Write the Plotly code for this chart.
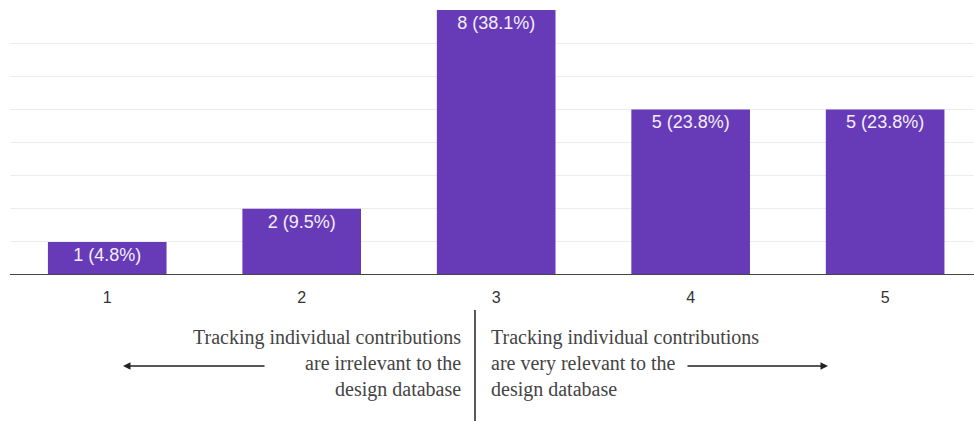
import plotly.graph_objects as go

# Survey responses on a 1–5 scale
categories = [1, 2, 3, 4, 5]
counts = [1, 2, 8, 5, 5]
percents = [4.8, 9.5, 38.1, 23.8, 23.8]
bar_labels = [f"{c} ({p}%)" for c, p in zip(counts, percents)]

left_note = "Tracking individual contributions<br>are irrelevant to the<br>design database"
right_note = "Tracking individual contributions<br>are very relevant to the<br>design database"

W, H = 974, 421
ML, MR, MT, MB = 10, 0, 10, 146
PW, PH = W - ML - MR, H - MT - MB


def px(x):
    return (x - ML) / PW


def py(y):
    return (H - MB - y) / PH


fig = go.Figure(
    go.Bar(
        x=categories,
        y=counts,
        width=0.61,
        marker=dict(color="#673ab7", line=dict(width=0)),
        text=bar_labels,
        textposition="inside",
        insidetextanchor="end",
        textangle=0,
        constraintext="none",
        textfont=dict(family="Arial, Liberation Sans, sans-serif", size=18, color="#f3eefa"),
        cliponaxis=False,
    )
)

fig.update_layout(
    width=W,
    height=H,
    margin=dict(l=ML, r=MR, t=MT, b=MB),
    paper_bgcolor="white",
    plot_bgcolor="white",
    showlegend=False,
    xaxis=dict(
        range=[0.5, 5.457],
        tickmode="array",
        tickvals=categories,
        ticktext=[str(c) for c in categories],
        showgrid=False,
        zeroline=False,
        showline=False,
        ticks="",
        ticklabelstandoff=11,
        tickfont=dict(family="Arial, Liberation Sans, sans-serif", size=16, color="#333333"),
    ),
    yaxis=dict(
        range=[0, 8],
        dtick=1,
        showgrid=True,
        gridcolor="#ececec",
        gridwidth=1,
        zeroline=False,
        showticklabels=False,
        ticks="",
    ),
)

# axis baseline
fig.add_shape(type="line", xref="paper", yref="y", x0=0, x1=1, y0=0, y1=0,
              line=dict(color="#444444", width=2))

# divider between the two scale descriptions
fig.add_shape(type="line", xref="paper", yref="paper",
              x0=px(475), x1=px(475), y0=py(310), y1=py(421),
              line=dict(color="#222222", width=1.5))

serif = dict(family="Liberation Serif, Times New Roman, serif", size=20, color="#444444")

fig.add_annotation(xref="paper", yref="paper", x=px(463), y=py(363),
                   text=left_note, showarrow=False, xanchor="right", yanchor="middle",
                   align="right", font=serif)
fig.add_annotation(xref="paper", yref="paper", x=px(489), y=py(363),
                   text=right_note, showarrow=False, xanchor="left", yanchor="middle",
                   align="left", font=serif)

# direction arrows
fig.add_annotation(xref="paper", yref="paper", x=px(123), y=py(366), ax=143, ay=0,
                   text="", showarrow=True, arrowhead=2, arrowsize=1, arrowwidth=1.5,
                   arrowcolor="#222222")
fig.add_annotation(xref="paper", yref="paper", x=px(828), y=py(366), ax=-142, ay=0,
                   text="", showarrow=True, arrowhead=2, arrowsize=1, arrowwidth=1.5,
                   arrowcolor="#222222")

fig.write_html("out.html")
